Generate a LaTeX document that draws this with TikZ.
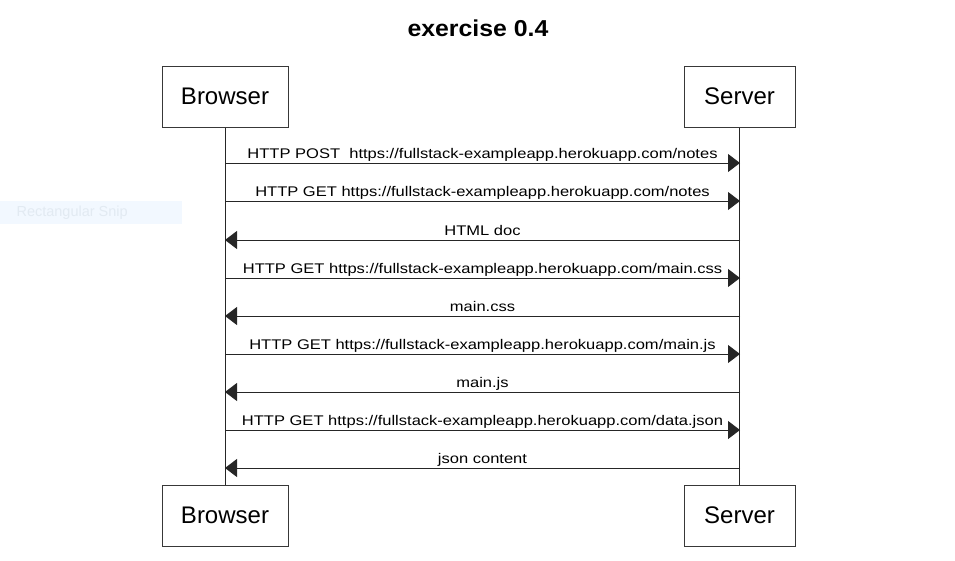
\documentclass[tikz,border=0pt]{standalone}
\usepackage{fontspec}
\setmainfont{Liberation Sans}
\newfontfamily\msgfont[FakeStretch=1.18]{Liberation Sans}
\newfontfamily\titlefont[FakeStretch=1.08]{Liberation Sans}
\usetikzlibrary{arrows.meta}
\definecolor{snipbg}{HTML}{F2F8FF}
\definecolor{sniptext}{HTML}{E2EAF2}
\begin{document}
\begin{tikzpicture}[x=1pt,y=-1pt,
    actor/.style={draw=black!78, line width=1pt, fill=white, minimum height=61pt, inner sep=0pt,
      font=\fontsize{24}{28}\selectfont},
    msg/.style={draw=black!85, line width=1pt, -{Triangle[length=12pt,width=18pt]}},
    lbl/.style={anchor=base, yshift=5pt, inner sep=0pt, font=\msgfont\fontsize{14}{16}\selectfont}]
    \useasboundingbox (0,0) rectangle (955,560);

    % Title
    \node[font=\titlefont\bfseries\fontsize{23}{27}\selectfont] (title) at (478,28) {exercise 0.4};

    % Leftover snip label
    \fill[snipbg] (0,201) rectangle (182,224);
    \node[anchor=west, text=sniptext, font=\fontsize{14.5}{16}\selectfont] (snip) at (13,212.5) {Rectangular Snip};

    % Participants
    \node[actor, minimum width=126pt] (bTop) at (225,96.5) {Browser};
    \node[actor, minimum width=111pt] (sTop) at (739.5,96.5) {Server};
    \node[actor, minimum width=126pt] (bBot) at (225,515.5) {Browser};
    \node[actor, minimum width=111pt] (sBot) at (739.5,515.5) {Server};

    % Lifelines
    \draw[black!85, line width=1pt] (bTop) -- (bBot);
    \draw[black!85, line width=1pt] (sTop) -- (sBot);

    % Message anchors
    \foreach \i/\y in {1/163, 2/201, 3/240, 4/278, 5/316, 6/354, 7/392, 8/430, 9/468} {
        \coordinate (b\i) at (225,\y);
        \coordinate (s\i) at (740,\y);
    }

    % Messages
    \draw[msg] (b1) -- node[lbl] {HTTP POST\ \ https://fullstack-exampleapp.herokuapp.com/notes} (s1);
    \draw[msg] (b2) -- node[lbl] {HTTP GET https://fullstack-exampleapp.herokuapp.com/notes} (s2);
    \draw[msg] (s3) -- node[lbl] {HTML doc} (b3);
    \draw[msg] (b4) -- node[lbl] {HTTP GET https://fullstack-exampleapp.herokuapp.com/main.css} (s4);
    \draw[msg] (s5) -- node[lbl] {main.css} (b5);
    \draw[msg] (b6) -- node[lbl] {HTTP GET https://fullstack-exampleapp.herokuapp.com/main.js} (s6);
    \draw[msg] (s7) -- node[lbl] {main.js} (b7);
    \draw[msg] (b8) -- node[lbl] {HTTP GET https://fullstack-exampleapp.herokuapp.com/data.json} (s8);
    \draw[msg] (s9) -- node[lbl] {json content} (b9);
\end{tikzpicture}
\end{document}
